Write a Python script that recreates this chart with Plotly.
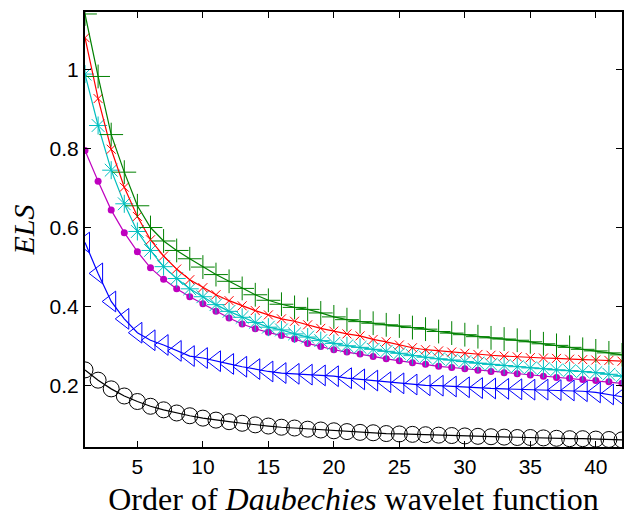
import plotly.graph_objects as go

# Order of the Daubechies wavelet (db1 ... db42)
orders = list(range(1, 43))

els_green = [1.14, 0.982, 0.835, 0.74, 0.655, 0.6, 0.566, 0.542, 0.521, 0.5,
             0.481, 0.464, 0.446, 0.43, 0.416, 0.406, 0.398, 0.393, 0.384, 0.374,
             0.367, 0.362, 0.358, 0.354, 0.351, 0.347, 0.343, 0.337, 0.333, 0.329,
             0.324, 0.321, 0.318, 0.315, 0.311, 0.306, 0.302, 0.297, 0.292, 0.288,
             0.283, 0.278]
els_red = [1.08, 0.926, 0.798, 0.702, 0.628, 0.569, 0.528, 0.495, 0.468, 0.448,
           0.43, 0.415, 0.402, 0.39, 0.379, 0.369, 0.363, 0.354, 0.345, 0.338,
           0.331, 0.326, 0.317, 0.311, 0.303, 0.296, 0.291, 0.288, 0.285, 0.282,
           0.279, 0.277, 0.275, 0.273, 0.271, 0.27, 0.269, 0.267, 0.266, 0.265,
           0.264, 0.262]
els_cyan = [0.988, 0.858, 0.745, 0.66, 0.59, 0.542, 0.501, 0.471, 0.445, 0.425,
            0.405, 0.388, 0.373, 0.36, 0.348, 0.341, 0.331, 0.323, 0.314, 0.307,
            0.301, 0.297, 0.292, 0.287, 0.282, 0.276, 0.272, 0.268, 0.265, 0.261,
            0.257, 0.254, 0.251, 0.248, 0.245, 0.243, 0.24, 0.238, 0.236, 0.233,
            0.229, 0.224]
els_magenta = [0.795, 0.717, 0.644, 0.587, 0.539, 0.498, 0.469, 0.445, 0.425, 0.407,
               0.388, 0.371, 0.356, 0.344, 0.335, 0.327, 0.318, 0.307, 0.299, 0.291,
               0.285, 0.28, 0.274, 0.268, 0.263, 0.258, 0.254, 0.249, 0.246, 0.243,
               0.239, 0.236, 0.233, 0.23, 0.227, 0.224, 0.221, 0.219, 0.216, 0.213,
               0.21, 0.206]
els_blue = [0.562, 0.484, 0.413, 0.369, 0.334, 0.315, 0.303, 0.288, 0.275, 0.27,
            0.262, 0.255, 0.248, 0.242, 0.236, 0.232, 0.23, 0.228, 0.226, 0.224,
            0.219, 0.216, 0.213, 0.209, 0.206, 0.203, 0.201, 0.2, 0.198, 0.196,
            0.194, 0.193, 0.192, 0.191, 0.19, 0.19, 0.189, 0.188, 0.186, 0.183,
            0.178, 0.172]
els_black = [0.24, 0.214, 0.192, 0.174, 0.16, 0.148, 0.139, 0.131, 0.124, 0.118,
             0.113, 0.109, 0.105, 0.101, 0.098, 0.095, 0.093, 0.09, 0.088, 0.086,
             0.084, 0.082, 0.081, 0.079, 0.078, 0.077, 0.076, 0.075, 0.074, 0.073,
             0.072, 0.071, 0.07, 0.069, 0.069, 0.068, 0.067, 0.066, 0.066, 0.065,
             0.064, 0.063]

x_ticks = [5, 10, 15, 20, 25, 30, 35, 40]
y_ticks = [0.2, 0.4, 0.6, 0.8, 1.0]
y_tick_labels = ["0.2", "0.4", "0.6", "0.8", "1"]

series = [
    (els_black, "#000000", "circle-open", 16, 1.0),
    (els_blue, "#0000ff", "triangle-left-open", 18, 1.0),
    (els_magenta, "#bf00bf", "circle", 7, 0),
    (els_cyan, "#00bfbf", "asterisk-open", 15, 1.0),
    (els_red, "#ff0000", "x-thin-open", 9, 1.0),
    (els_green, "#008000", "cross-thin-open", 17, 1.0),
]

fig = go.Figure()
for vals, color, symbol, size, mlw in series:
    fig.add_trace(go.Scatter(
        x=orders, y=vals, mode="lines+markers",
        line=dict(color=color, width=1.2),
        marker=dict(symbol=symbol, size=size, color=color,
                    line=dict(color=color, width=mlw)),
        showlegend=False,
    ))

axis_common = dict(
    showgrid=False, zeroline=False, showline=True, linecolor="black",
    linewidth=2, mirror="allticks", ticks="inside", ticklen=6,
    tickwidth=1, tickcolor="black",
    tickfont=dict(family="Liberation Sans, Arial", size=21, color="black"),
)

fig.update_layout(
    width=628, height=529,
    margin=dict(l=85, r=4, t=12, b=82),
    paper_bgcolor="white", plot_bgcolor="white",
    xaxis=dict(range=[1, 42], tickvals=x_ticks,
               title=dict(text="Order of <i>Daubechies</i> wavelet function",
                          font=dict(family="Liberation Serif, Times New Roman",
                                    size=32, color="black"),
                          standoff=10),
               **axis_common),
    yaxis=dict(range=[0.045, 1.145], tickvals=y_ticks, ticktext=y_tick_labels,
               title=dict(text="<i>ELS</i>",
                          font=dict(family="Liberation Serif, Times New Roman",
                                    size=30, color="black"),
                          standoff=6),
               **axis_common),
)

fig.write_html("out.html")
